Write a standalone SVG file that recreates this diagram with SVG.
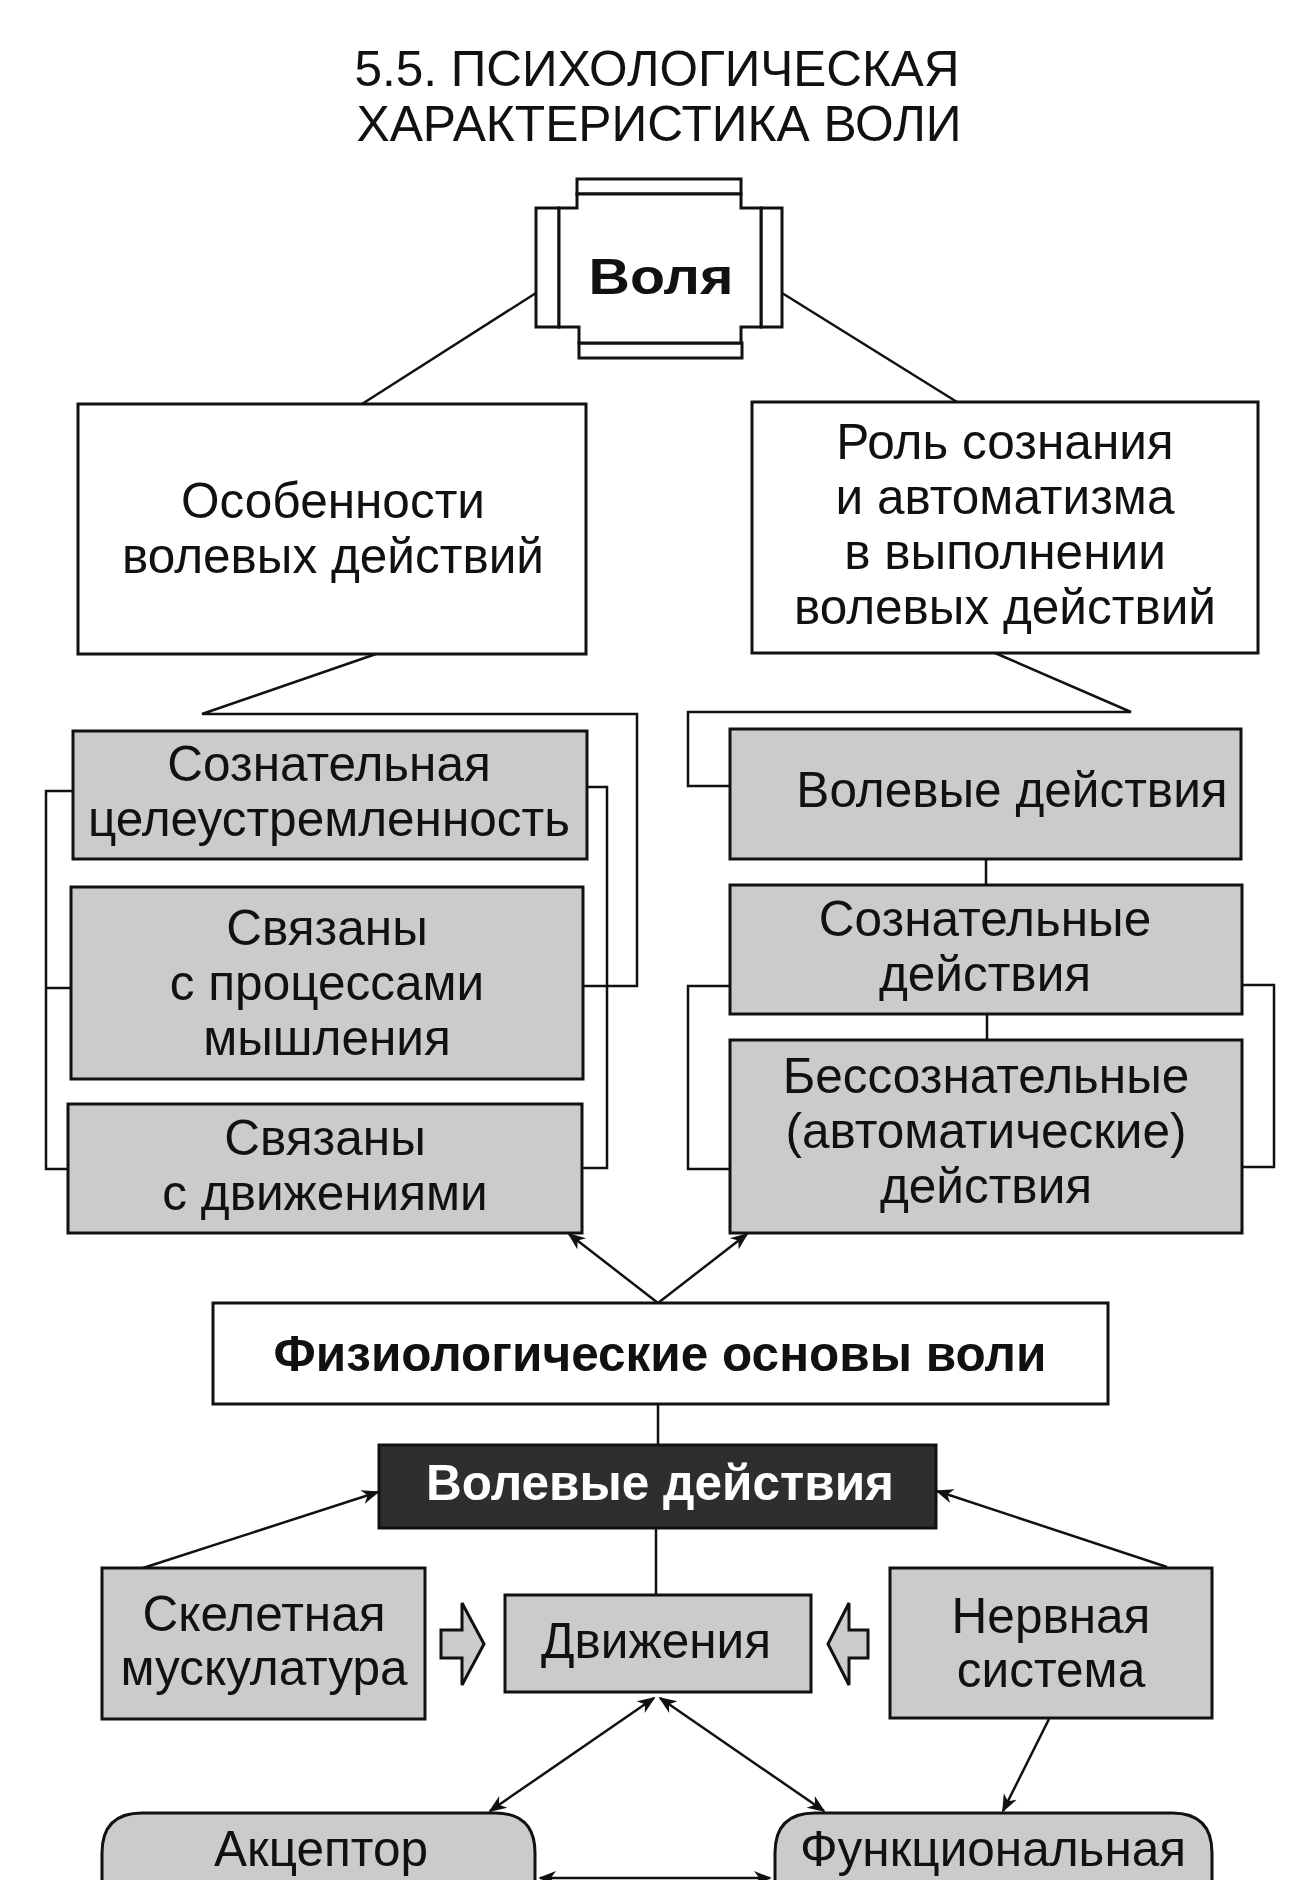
<svg xmlns="http://www.w3.org/2000/svg" width="1300" height="1880" viewBox="0 0 1300 1880">
<defs>
<style>
.t{font-family:"Liberation Sans",Arial,sans-serif;font-size:49.5px;fill:#111;text-anchor:middle}
.b{font-weight:bold}
.box{fill:#fff;stroke:#111;stroke-width:3}
.gray{fill:#cbcbcb;stroke:#111;stroke-width:3}
.dark{fill:#2e2e2e;stroke:#111;stroke-width:3}
.ln{fill:none;stroke:#111;stroke-width:2.5}
</style>
<marker id="ah2" viewBox="0 0 10 10" refX="9" refY="5" markerWidth="18" markerHeight="18" markerUnits="userSpaceOnUse" orient="auto-start-reverse">
<path d="M0,1 L10,5 L0,9 L3,5 Z" fill="#111"/>
</marker>
</defs>
<rect width="1300" height="1880" fill="#fff"/>

<g id="title">
<text class="t" x="657" y="86" font-size="50" textLength="605" lengthAdjust="spacingAndGlyphs">5.5. ПСИХОЛОГИЧЕСКАЯ</text>
<text class="t" x="659" y="141" font-size="50" textLength="605" lengthAdjust="spacingAndGlyphs">ХАРАКТЕРИСТИКА ВОЛИ</text>
</g>

<g id="connectors">
<line class="ln" x1="536" y1="293" x2="362" y2="404"/>
<line class="ln" x1="782" y1="293" x2="957" y2="402"/>
<polyline class="ln" points="376,654 202,714 637,714 637,986 584,986"/>
<polyline class="ln" points="73,791 46,791 46,1169 68,1169"/>
<line class="ln" x1="46" y1="988" x2="71" y2="988"/>
<polyline class="ln" points="587,787 607,787 607,1168 582,1168"/>
<polyline class="ln" points="995,653 1131,712 688,712 688,786 730,786"/>
<line class="ln" x1="986" y1="859" x2="986" y2="885"/>
<line class="ln" x1="987" y1="1014" x2="987" y2="1040"/>
<polyline class="ln" points="730,986 688,986 688,1169 730,1169"/>
<polyline class="ln" points="1242,985 1274,985 1274,1167 1242,1167"/>
<line class="ln" x1="658" y1="1303" x2="569" y2="1234" marker-end="url(#ah2)"/>
<line class="ln" x1="658" y1="1303" x2="747" y2="1234" marker-end="url(#ah2)"/>
<line class="ln" x1="658" y1="1404" x2="658" y2="1445"/>
<line class="ln" x1="656" y1="1528" x2="656" y2="1595"/>
<line class="ln" x1="143" y1="1568" x2="378" y2="1492" marker-end="url(#ah2)"/>
<line class="ln" x1="1167" y1="1567" x2="937" y2="1491" marker-end="url(#ah2)"/>
<line class="ln" x1="654" y1="1698" x2="490" y2="1811" marker-start="url(#ah2)" marker-end="url(#ah2)"/>
<line class="ln" x1="660" y1="1698" x2="824" y2="1811" marker-start="url(#ah2)" marker-end="url(#ah2)"/>
<line class="ln" x1="1049" y1="1719" x2="1003" y2="1811" marker-end="url(#ah2)"/>
<line class="ln" x1="540" y1="1878" x2="770" y2="1878" marker-start="url(#ah2)" marker-end="url(#ah2)"/>
<path class="gray" stroke-width="2.5" d="M441,1630 L462,1630 L462,1603 L484,1644 L462,1685 L462,1658 L441,1658 Z"/>
<path class="gray" stroke-width="2.5" d="M868,1630 L849,1630 L849,1603 L828,1644 L849,1685 L849,1658 L868,1658 Z"/>
</g>

<g id="volya">
<rect class="box" x="577" y="179" width="164" height="15"/>
<rect class="box" x="579" y="343" width="163" height="15"/>
<rect class="box" x="536" y="208" width="23" height="119"/>
<rect class="box" x="761" y="208" width="21" height="119"/>
<path class="box" d="M577,194 L741,194 L741,208 L761,208 L761,327 L741,327 L741,343 L579,343 L579,327 L559,327 L559,208 L577,208 Z"/>
<text class="t b" x="661" y="294" font-size="63" textLength="145" lengthAdjust="spacingAndGlyphs">Воля</text>
</g>

<g id="osobennosti">
<rect class="box" x="78" y="404" width="508" height="250"/>
<text class="t" x="333" y="518">Особенности</text>
<text class="t" x="333" y="573">волевых действий</text>
</g>

<g id="rol">
<rect class="box" x="752" y="402" width="506" height="251"/>
<text class="t" x="1005" y="459">Роль сознания</text>
<text class="t" x="1005" y="514">и автоматизма</text>
<text class="t" x="1005" y="569">в выполнении</text>
<text class="t" x="1005" y="624">волевых действий</text>
</g>

<g id="celeustr">
<rect class="gray" x="73" y="731" width="514" height="128"/>
<text class="t" x="329" y="781">Сознательная</text>
<text class="t" x="329" y="836">целеустремленность</text>
</g>

<g id="myshlenie">
<rect class="gray" x="71" y="887" width="512" height="192"/>
<text class="t" x="327" y="945">Связаны</text>
<text class="t" x="327" y="1000">с процессами</text>
<text class="t" x="327" y="1055">мышления</text>
</g>

<g id="dvizh1">
<rect class="gray" x="68" y="1104" width="514" height="129"/>
<text class="t" x="325" y="1155">Связаны</text>
<text class="t" x="325" y="1210">с движениями</text>
</g>

<g id="volevye1">
<rect class="gray" x="730" y="729" width="511" height="130"/>
<text class="t" x="1012" y="807">Волевые действия</text>
</g>

<g id="soznat">
<rect class="gray" x="730" y="885" width="512" height="129"/>
<text class="t" x="985" y="936">Сознательные</text>
<text class="t" x="985" y="991">действия</text>
</g>

<g id="bessoznat">
<rect class="gray" x="730" y="1040" width="512" height="193"/>
<text class="t" x="986" y="1093">Бессознательные</text>
<text class="t" x="986" y="1148">(автоматические)</text>
<text class="t" x="986" y="1203">действия</text>
</g>

<g id="fiziol">
<rect class="box" x="213" y="1303" width="895" height="101"/>
<text class="t b" x="660" y="1371" font-size="47">Физиологические основы воли</text>
</g>

<g id="volevye2">
<rect class="dark" x="379" y="1445" width="557" height="83"/>
<text class="t b" x="660" y="1500" font-size="47" style="fill:#fff">Волевые действия</text>
</g>

<g id="skelet">
<rect class="gray" x="102" y="1568" width="323" height="151"/>
<text class="t" x="264" y="1631">Скелетная</text>
<text class="t" x="264" y="1685">мускулатура</text>
</g>

<g id="dvizheniya">
<rect class="gray" x="505" y="1595" width="306" height="97"/>
<text class="t" x="656" y="1658">Движения</text>
</g>

<g id="nervn">
<rect class="gray" x="890" y="1568" width="322" height="150"/>
<text class="t" x="1051" y="1633">Нервная</text>
<text class="t" x="1051" y="1687">система</text>
</g>

<g id="akceptor">
<path class="gray" d="M102,1900 L102,1853 Q102,1813 142,1813 L495,1813 Q535,1813 535,1853 L535,1900"/>
<text class="t" x="321" y="1866" font-size="47">Акцептор</text>
</g>

<g id="funkc">
<path class="gray" d="M775,1900 L775,1853 Q775,1813 815,1813 L1172,1813 Q1212,1813 1212,1853 L1212,1900"/>
<text class="t" x="993" y="1866" font-size="47">Функциональная</text>
</g>
</svg>
